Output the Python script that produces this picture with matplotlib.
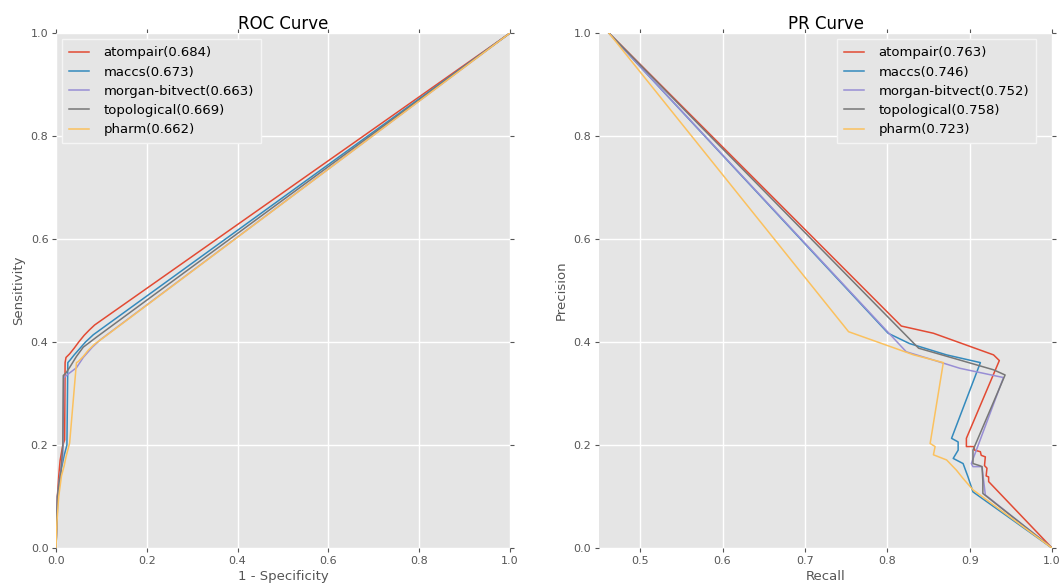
import matplotlib
matplotlib.use("Agg")
import matplotlib.pyplot as plt

plt.style.use("ggplot")

colors = ["#E24A33", "#348ABD", "#988ED5", "#777777", "#FBC15E"]
names = ["atompair", "maccs", "morgan-bitvect", "topological", "pharm"]
roc_auc = [0.684, 0.673, 0.663, 0.669, 0.662]
pr_auc = [0.763, 0.746, 0.752, 0.758, 0.723]

# ROC curves (fpr, tpr)
fpr_atompair = [0, 0.003, 0.006, 0.009, 0.012, 0.015, 0.019, 0.020, 0.022, 0.030, 0.040, 0.050, 0.062, 0.073, 0.085, 1.0]
tpr_atompair = [0, 0.10, 0.14, 0.17, 0.185, 0.20, 0.21, 0.36, 0.37, 0.377, 0.388, 0.40, 0.413, 0.423, 0.433, 1.0]
fpr_maccs = [0, 0.004, 0.008, 0.012, 0.018, 0.024, 0.026, 0.031, 0.040, 0.053, 0.065, 0.082, 1.0]
tpr_maccs = [0, 0.10, 0.13, 0.155, 0.18, 0.20, 0.36, 0.365, 0.375, 0.388, 0.40, 0.414, 1.0]
fpr_morgan = [0, 0.003, 0.007, 0.011, 0.015, 0.017, 0.020, 0.030, 0.045, 0.060, 0.080, 0.097, 1.0]
tpr_morgan = [0, 0.10, 0.13, 0.155, 0.18, 0.33, 0.333, 0.34, 0.35, 0.37, 0.39, 0.404, 1.0]
fpr_topo = [0, 0.003, 0.007, 0.011, 0.015, 0.016, 0.022, 0.031, 0.045, 0.060, 0.075, 0.090, 1.0]
tpr_topo = [0, 0.10, 0.13, 0.15, 0.20, 0.335, 0.34, 0.352, 0.372, 0.39, 0.40, 0.41, 1.0]
fpr_pharm = [0, 0.002, 0.006, 0.012, 0.018, 0.022, 0.030, 0.045, 0.049, 0.060, 0.071, 0.085, 0.104, 1.0]
tpr_pharm = [0, 0.05, 0.10, 0.14, 0.16, 0.177, 0.204, 0.36, 0.362, 0.372, 0.384, 0.396, 0.408, 1.0]

# PR curves (recall, precision)
rec_atompair = [0.462, 0.817, 0.856, 0.896, 0.929, 0.936, 0.896, 0.896, 0.905, 0.906, 0.913, 0.914,
                0.919, 0.918, 0.921, 0.920, 0.923, 0.923, 1.0]
prec_atompair = [1.0, 0.431, 0.417, 0.394, 0.375, 0.364, 0.213, 0.197, 0.197, 0.19, 0.187, 0.18,
                 0.177, 0.16, 0.155, 0.14, 0.138, 0.129, 0.0]
rec_maccs = [0.462, 0.801, 0.827, 0.872, 0.913, 0.878, 0.886, 0.886, 0.880, 0.892, 0.898, 0.904, 1.0]
prec_maccs = [1.0, 0.417, 0.397, 0.375, 0.36, 0.213, 0.206, 0.19, 0.174, 0.164, 0.138, 0.109, 0.0]
rec_morgan = [0.462, 0.823, 0.856, 0.888, 0.941, 0.902, 0.904, 0.915, 0.917, 0.919, 1.0]
prec_morgan = [1.0, 0.381, 0.365, 0.349, 0.331, 0.164, 0.158, 0.158, 0.13, 0.103, 0.0]
rec_topo = [0.462, 0.838, 0.888, 0.929, 0.943, 0.904, 0.904, 0.912, 0.915, 0.916, 0.916, 1.0]
prec_topo = [1.0, 0.388, 0.365, 0.346, 0.336, 0.190, 0.164, 0.16, 0.158, 0.13, 0.106, 0.0]
rec_pharm = [0.462, 0.753, 0.832, 0.868, 0.852, 0.858, 0.856, 0.872, 0.884, 0.892, 0.904, 1.0]
prec_pharm = [1.0, 0.42, 0.375, 0.36, 0.203, 0.197, 0.181, 0.171, 0.151, 0.135, 0.113, 0.0]

roc = [(fpr_atompair, tpr_atompair), (fpr_maccs, tpr_maccs), (fpr_morgan, tpr_morgan),
       (fpr_topo, tpr_topo), (fpr_pharm, tpr_pharm)]
pr = [(rec_atompair, prec_atompair), (rec_maccs, prec_maccs), (rec_morgan, prec_morgan),
      (rec_topo, prec_topo), (rec_pharm, prec_pharm)]

fig = plt.figure(figsize=(10.63, 5.87), dpi=100)
ax1 = fig.add_axes([0.0527, 0.0664, 0.4271, 0.8774])
ax2 = fig.add_axes([0.5635, 0.0664, 0.4262, 0.8774])

for i in range(5):
    ax1.plot(roc[i][0], roc[i][1], color=colors[i], lw=1.1, label="%s(%.3f)" % (names[i], roc_auc[i]))
    ax2.plot(pr[i][0], pr[i][1], color=colors[i], lw=1.1, label="%s(%.3f)" % (names[i], pr_auc[i]))

ax1.set_xlim(0, 1)
ax1.set_ylim(0, 1)
ax2.set_xlim(0.45, 1.0)
ax2.set_ylim(0, 1)
ax1.set_xticks([0, 0.2, 0.4, 0.6, 0.8, 1.0])
ax2.set_xticks([0.5, 0.6, 0.7, 0.8, 0.9, 1.0])

for ax, title, xl, yl in [(ax1, "ROC Curve", "1 - Specificity", "Sensitivity"),
                          (ax2, "PR Curve", "Recall", "Precision")]:
    ax.set_yticks([0, 0.2, 0.4, 0.6, 0.8, 1.0])
    ax.set_title(title, fontsize=12, color="black", pad=3)
    ax.set_xlabel(xl, fontsize=9.5, color="#555555", labelpad=3)
    ax.set_ylabel(yl, fontsize=9.5, color="#555555", labelpad=4)
    ax.tick_params(top=True, right=True, labeltop=False, labelright=False,
                   direction="out", length=3, width=0.8, color="#555555",
                   labelsize=8, labelcolor="#555555", pad=2.5)
    ax.grid(True, color="white", lw=1)
    for s in ax.spines.values():
        s.set_visible(False)

leg_kw = dict(fontsize=9.5, fancybox=False, framealpha=1, labelspacing=0.47,
              handlelength=1.5, handletextpad=1.1, borderpad=0.55, borderaxespad=0)
l1 = ax1.legend(loc="upper left", bbox_to_anchor=(0.013, 0.988), **leg_kw)
l2 = ax2.legend(loc="upper right", bbox_to_anchor=(0.965, 0.988), **leg_kw)
for lg in (l1, l2):
    lg.get_frame().set_facecolor("#E5E5E5")
    lg.get_frame().set_edgecolor("#F5F5F5")
    lg.get_frame().set_linewidth(1.0)
    for t in lg.get_texts():
        t.set_color("black")

fig.savefig("out.png", dpi=100)
